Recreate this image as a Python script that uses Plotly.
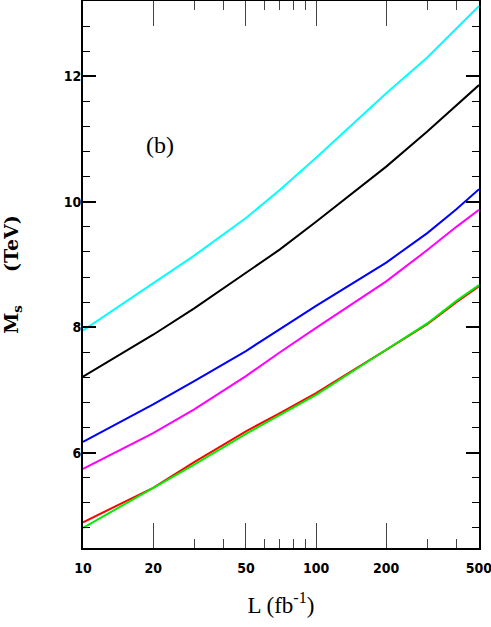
import plotly.graph_objects as go

# Luminosity values (fb^-1)
L = [10, 20, 30, 50, 70, 100, 200, 300, 400, 500]

cyan_ms    = [7.95, 8.70, 9.14, 9.74, 10.19, 10.70, 11.73, 12.30, 12.76, 13.12]
black_ms   = [7.21, 7.88, 8.30, 8.86, 9.24, 9.68, 10.56, 11.12, 11.53, 11.86]
blue_ms    = [6.17, 6.77, 7.14, 7.62, 7.97, 8.34, 9.03, 9.50, 9.88, 10.20]
magenta_ms = [5.74, 6.31, 6.69, 7.22, 7.60, 7.99, 8.73, 9.23, 9.60, 9.87]
red_ms     = [4.89, 5.44, 5.85, 6.34, 6.63, 6.95, 7.64, 8.05, 8.40, 8.65]
green_ms   = [4.80, 5.43, 5.81, 6.30, 6.60, 6.92, 7.64, 8.06, 8.42, 8.67]

series = [
    ("cyan", cyan_ms, "#00ffff"),
    ("black", black_ms, "#000000"),
    ("blue", blue_ms, "#0000ff"),
    ("magenta", magenta_ms, "#ff00ff"),
    ("red", red_ms, "#ff0000"),
    ("green", green_ms, "#00ee00"),
]

x_tick_vals = [10, 20, 50, 100, 200, 500]
x_tick_text = ["10", "20", "50", "100", "200", "500"]
x_minor_vals = [30, 40, 60, 70, 80, 90, 300, 400]
y_tick_vals = [6, 8, 10, 12]
y_tick_text = ["6", "8", "10", "12"]

fig = go.Figure()
for name, ys, col in series:
    fig.add_trace(go.Scatter(x=L, y=ys, mode="lines", name=name,
                             line=dict(color=col, width=2)))

tickfont = dict(family="DejaVu Sans Condensed", size=14, color="black", weight="bold")
serif = "Liberation Serif"

fig.update_layout(
    width=491, height=627,
    margin=dict(l=83, r=12, t=1, b=79, autoexpand=False),
    paper_bgcolor="white", plot_bgcolor="white",
    showlegend=False,
    xaxis=dict(
        type="log", range=[1, 2.6991],
        automargin=False,
        tickmode="array", tickvals=x_tick_vals, ticktext=x_tick_text,
        ticks="inside", ticklen=25, tickwidth=1.3, tickcolor="#444",
        minor=dict(tickmode="array", tickvals=x_minor_vals, ticks="inside",
                   ticklen=9, tickwidth=1.3, tickcolor="#444", showgrid=False),
        showline=True, linecolor="black", linewidth=2, mirror="allticks",
        showgrid=False, zeroline=False, tickfont=tickfont,
        ticklabeloverflow="allow", ticklabelstandoff=6,
        title=dict(text="L (fb<sup>-1</sup>)", standoff=22,
                   font=dict(family=serif, size=23, color="black")),
    ),
    yaxis=dict(
        range=[4.48, 13.2],
        automargin=False,
        tickmode="array", tickvals=y_tick_vals, ticktext=y_tick_text,
        ticks="inside", ticklen=13, tickwidth=1.6, tickcolor="black",
        minor=dict(dtick=0.4, tick0=4.0, ticks="inside", ticklen=7, tickwidth=1.3,
                   tickcolor="black", showgrid=False),
        showline=True, linecolor="black", linewidth=2, mirror="allticks",
        showgrid=False, zeroline=False, tickfont=tickfont,
        ticklabelstandoff=-3,
        title=dict(text="<b>M<sub>s</sub>&nbsp;&nbsp;&nbsp;&nbsp;&nbsp;(TeV)</b>", standoff=40,
                   font=dict(family="DejaVu Serif", size=19, color="black")),
    ),
    annotations=[dict(x=1.329, y=10.91, xref="x", yref="y", text="(b)", showarrow=False,
                      font=dict(family=serif, size=24, color="black"))],
)

fig.write_html("out.html", config={"displayModeBar": False},
               post_script="document.body.style.margin='0';document.body.style.overflow='hidden';")
